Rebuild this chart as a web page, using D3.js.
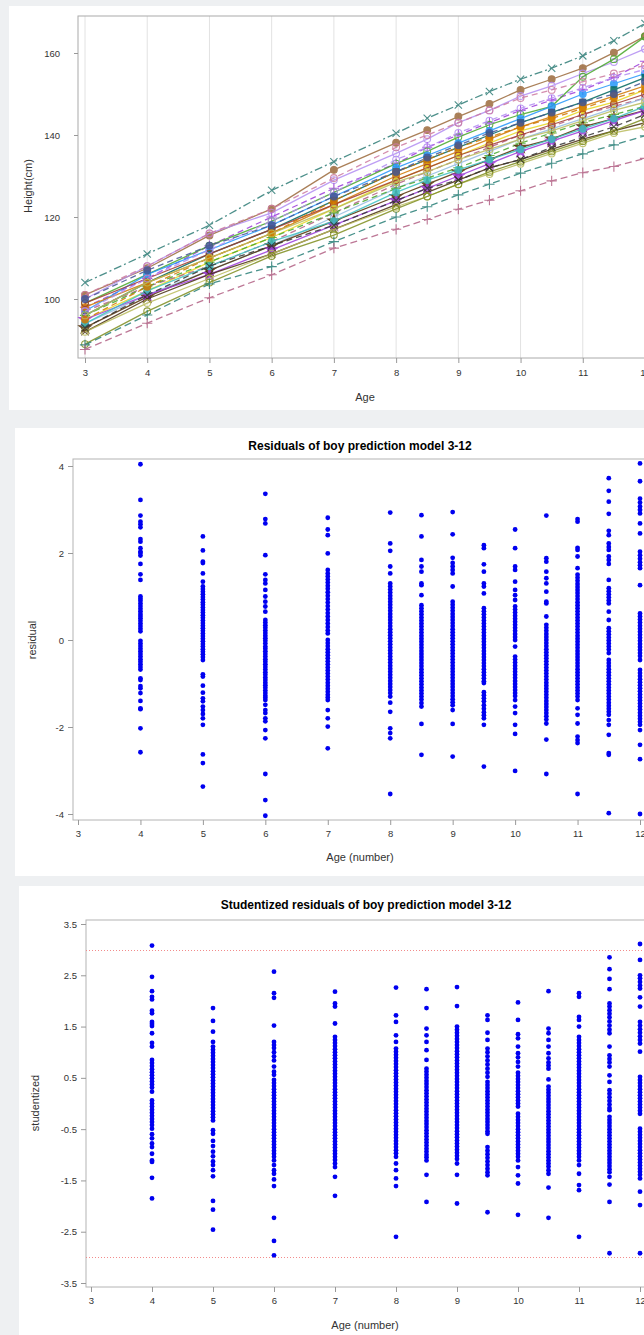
<!DOCTYPE html>
<html>
<head>
<meta charset="utf-8">
<script src="https://cdn.jsdelivr.net/npm/d3@7"></script>
<style>
  body { margin: 0; background: #eef0f2; }
  svg { display: block; font-family: "Liberation Sans", Arial, sans-serif; }
</style>
</head>
<body>
<svg id="chart" width="644" height="1335"></svg>
<script>
"use strict";

// ---- data: growth curves (Height in cm by age) ----
const ages = [3, 4, 5, 6, 7, 8, 8.5, 9, 9.5, 10, 10.5, 11, 11.5, 12];
const heights = [
  [104, 111, 118, 126.5, 133.5, 140.4, 144.1, 147.3, 150.6, 153.6, 156.3, 159.3, 163, 167.2],
  [101, 107.5, 115.5, 122, 131.5, 138.1, 141.2, 144.5, 147.6, 151, 153.6, 156.3, 160.1, 164.1],
  [100, 108, 116, 121, 129, 135.5, 139, 143, 146, 149.5, 152, 155, 157.8, 161],
  [98, 105, 113, 120, 127, 133, 137, 140, 143, 146, 148.5, 151, 154, 158],
  [99, 106, 113, 119, 126, 133, 136, 139.5, 142.5, 145, 147, 154.2, 158.5, 164],
  [97, 106, 112, 118, 125, 132, 135, 138, 141, 144, 147, 150, 152.5, 155],
  [96, 104, 111, 117, 124, 131, 134, 137, 140, 143, 145.5, 148, 151, 154],
  [98, 104, 110, 116, 123, 130, 133, 136, 139, 142, 144.5, 147, 149.5, 152],
  [95, 102, 109, 115, 122, 129, 132, 135, 138, 141, 143, 146, 148, 151],
  [97, 103, 108, 114, 121, 128, 131, 134, 137, 140, 142, 145, 147, 149],
  [94, 101, 107, 113, 120, 127, 130, 133, 136, 139, 141.5, 144, 146.5, 149],
  [96, 103, 109, 115, 121, 127, 129.5, 132, 135, 138, 140.5, 143, 145, 147],
  [93, 100.5, 107, 113, 119, 125, 128, 131, 134, 137, 139, 142, 144, 146],
  [95, 101, 106, 112, 118, 124, 127, 130, 133, 136, 138.5, 141, 143.5, 146],
  [92, 100, 106, 111, 117, 123, 126, 129, 132, 134, 136.5, 139, 141, 143],
  [94, 102, 108, 114, 119, 126, 129, 131.5, 134, 136.5, 139, 141.5, 144, 147],
  [99, 105, 111, 117, 123, 129, 132, 135, 137.5, 140, 142.5, 145, 147.5, 150],
  [92, 99, 105, 111, 117, 122.5, 125, 128, 130.5, 133, 135.5, 138, 140.5, 142],
  [89, 97, 104, 110.5, 115.6, 122, 125, 128, 131, 133.5, 136, 138.5, 141, 144],
  [88.8, 96.1, 103.7, 107.9, 114, 120, 122.5, 125.4, 128, 130.7, 133.1, 135.4, 137.6, 139.8],
  [87.7, 94.1, 100.3, 105.9, 112.4, 117, 119.4, 121.9, 124.1, 126.4, 128.8, 130.8, 132.3, 134.3],
  [101, 108, 116, 122, 129.5, 137, 140, 143, 146, 149, 151, 153, 155, 157],
  [97, 105, 112, 119, 126, 134, 137, 140.5, 143.5, 146.5, 149, 151.5, 154, 156],
  [95, 103, 110, 116, 124, 131, 134, 137, 139.5, 142, 144, 146.5, 149, 151],
  [96, 104, 110, 116, 122, 128.5, 131, 134, 136.5, 139, 141, 143.5, 146, 148],
  [100, 107, 113, 118, 125, 131, 134.5, 137.5, 140.5, 143, 145.5, 148, 150, 153],
  [93, 101, 108, 113, 118, 124, 127, 129, 132, 134, 137, 139.5, 142, 145]
];
const heightTicks = [100, 120, 140, 160];
const ageTicks = [3, 4, 5, 6, 7, 8, 9, 10, 11, 12];

// ---- data: residuals by age ----
const residAges = [4, 5, 6, 7, 8, 8.5, 9, 9.5, 10, 10.5, 11, 11.5, 12];
const res_4 = [4.04,3.22,2.86,2.72,2.66,2.59,2.32,2.26,2.11,2.03,2.0,1.94,1.75,1.51,1.38,1.0,0.95,0.9,0.84,0.78,0.72,0.66,0.6,0.55,0.5,0.44,0.38,0.32,0.26,0.2,-0.02,-0.08,-0.14,-0.2,-0.26,-0.32,-0.38,-0.44,-0.5,-0.56,-0.62,-0.68,-0.88,-0.92,-1.06,-1.11,-1.22,-1.4,-1.57,-1.59,-2.03,-2.58];
const res_5 = [2.38,2.06,1.8,1.77,1.53,1.34,1.23,1.17,1.11,1.05,0.99,0.93,0.87,0.81,0.75,0.69,0.63,0.57,0.51,0.45,0.39,0.33,0.27,0.21,0.15,0.09,0.03,-0.03,-0.09,-0.15,-0.21,-0.27,-0.33,-0.39,-0.46,-0.79,-0.84,-1.05,-1.21,-1.34,-1.41,-1.53,-1.61,-1.7,-1.8,-1.95,-2.63,-2.83,-3.37];
const res_6 = [3.36,2.78,2.68,1.95,1.51,1.38,1.3,1.15,1.0,0.88,0.77,0.65,0.46,0.4,0.34,0.28,0.22,0.16,0.1,0.04,-0.02,-0.08,-0.15,-0.2,-0.26,-0.32,-0.38,-0.44,-0.5,-0.56,-0.62,-0.68,-0.74,-0.8,-0.86,-0.92,-0.98,-1.04,-1.1,-1.16,-1.22,-1.28,-1.33,-1.38,-1.49,-1.61,-1.68,-1.8,-1.87,-2.07,-2.26,-3.08,-3.68,-4.04];
const res_7 = [2.81,2.54,2.41,1.99,1.61,1.53,1.46,1.39,1.32,1.25,1.18,1.1,1.02,0.94,0.86,0.78,0.7,0.62,0.54,0.46,0.38,0.3,0.22,0.15,0.0,-0.07,-0.14,-0.21,-0.28,-0.35,-0.42,-0.49,-0.56,-0.63,-0.7,-0.77,-0.84,-0.91,-0.98,-1.05,-1.12,-1.19,-1.26,-1.32,-1.38,-1.61,-1.8,-1.99,-2.49];
const res_8 = [2.93,2.22,2.05,1.69,1.53,1.3,1.23,1.16,1.09,1.02,0.95,0.88,0.81,0.74,0.67,0.6,0.53,0.46,0.39,0.32,0.25,0.18,0.11,0.04,-0.03,-0.1,-0.17,-0.24,-0.31,-0.38,-0.45,-0.52,-0.59,-0.66,-0.73,-0.8,-0.87,-0.94,-1.01,-1.08,-1.15,-1.22,-1.3,-1.44,-1.65,-2.03,-2.14,-2.26,-3.54];
const res_8_5 = [2.87,2.38,1.84,1.69,1.57,1.3,1.26,1.03,0.8,0.73,0.66,0.59,0.52,0.45,0.38,0.31,0.24,0.17,0.1,0.03,-0.04,-0.11,-0.18,-0.25,-0.32,-0.39,-0.46,-0.53,-0.6,-0.67,-0.74,-0.81,-0.88,-0.95,-1.02,-1.09,-1.16,-1.23,-1.3,-1.37,-1.45,-1.53,-1.93,-2.64];
const res_9 = [2.94,2.43,1.89,1.77,1.69,1.61,1.53,1.23,0.88,0.81,0.74,0.67,0.6,0.53,0.46,0.39,0.32,0.25,0.18,0.11,0.04,-0.03,-0.1,-0.17,-0.24,-0.31,-0.38,-0.45,-0.52,-0.59,-0.66,-0.73,-0.8,-0.87,-0.94,-1.01,-1.08,-1.15,-1.22,-1.29,-1.36,-1.43,-1.5,-1.61,-1.93,-2.68];
const res_9_5 = [2.18,2.11,1.74,1.57,1.3,1.23,1.07,0.73,0.66,0.59,0.52,0.45,0.38,0.31,0.24,0.17,0.1,0.03,-0.04,-0.11,-0.18,-0.25,-0.32,-0.39,-0.46,-0.53,-0.6,-0.67,-0.74,-0.81,-0.88,-0.95,-0.99,-1.2,-1.27,-1.34,-1.41,-1.5,-1.58,-1.66,-1.73,-1.8,-1.95,-2.91];
const res_10 = [2.54,2.11,1.69,1.61,1.34,1.15,1.03,0.92,0.77,0.7,0.63,0.56,0.49,0.42,0.35,0.28,0.21,0.14,0.07,0.0,-0.15,-0.38,-0.45,-0.52,-0.59,-0.66,-0.73,-0.8,-0.87,-0.94,-1.01,-1.08,-1.15,-1.22,-1.29,-1.38,-1.53,-1.68,-1.95,-2.16,-3.01];
const res_10_5 = [2.86,1.88,1.8,1.57,1.42,1.3,1.11,0.88,0.84,0.54,0.35,0.28,0.21,0.14,0.07,0.0,-0.07,-0.14,-0.21,-0.28,-0.35,-0.42,-0.49,-0.56,-0.63,-0.7,-0.77,-0.84,-0.91,-0.98,-1.05,-1.12,-1.19,-1.26,-1.33,-1.4,-1.47,-1.54,-1.61,-1.68,-1.75,-1.83,-1.92,-2.29,-3.08];
const res_11 = [2.78,2.72,2.12,2.07,1.92,1.65,1.5,1.43,1.36,1.29,1.22,1.15,1.08,1.01,0.94,0.87,0.8,0.73,0.66,0.59,0.52,0.45,0.38,0.31,0.24,0.17,0.1,0.03,-0.04,-0.11,-0.18,-0.25,-0.32,-0.39,-0.46,-0.53,-0.6,-0.67,-0.74,-0.81,-0.88,-0.95,-1.02,-1.09,-1.16,-1.23,-1.3,-1.38,-1.57,-1.72,-1.92,-2.22,-2.3,-2.37,-3.54];
const res_11_5 = [3.72,3.43,3.18,2.9,2.51,2.41,2.22,2.14,2.07,1.92,1.84,1.75,1.38,1.19,1.12,1.05,0.98,0.91,0.84,0.65,0.46,0.27,0.2,0.13,0.06,-0.01,-0.08,-0.15,-0.22,-0.3,-0.46,-0.53,-0.6,-0.67,-0.74,-0.81,-0.88,-0.95,-1.02,-1.09,-1.16,-1.23,-1.3,-1.37,-1.44,-1.51,-1.58,-1.65,-1.72,-1.84,-1.95,-2.18,-2.6,-2.64,-3.98];
const res_12 = [4.06,3.65,3.25,3.16,3.07,2.99,2.91,2.68,2.45,2.03,1.95,1.87,1.79,1.72,1.65,1.26,0.61,0.54,0.47,0.4,0.33,0.26,0.19,0.12,0.05,-0.02,-0.09,-0.16,-0.23,-0.3,-0.37,-0.46,-0.69,-0.76,-0.83,-0.9,-0.97,-1.04,-1.11,-1.18,-1.25,-1.32,-1.39,-1.46,-1.53,-1.6,-1.67,-1.74,-1.81,-1.88,-1.95,-2.07,-2.41,-2.74,-4.0];
const residTicks = [-4, -2, 0, 2, 4];

// ---- data: studentized residuals by age ----
const st_4 = [3.08,2.47,2.19,2.08,2.03,1.81,1.76,1.59,1.55,1.51,1.37,1.18,1.11,0.85,0.79,0.73,0.67,0.61,0.55,0.49,0.43,0.37,0.31,0.23,0.06,0.0,-0.06,-0.12,-0.18,-0.24,-0.3,-0.36,-0.42,-0.49,-0.6,-0.68,-0.78,-0.85,-0.98,-1.11,-1.14,-1.45,-1.85];
const st_5 = [1.86,1.61,1.4,1.2,1.11,1.05,0.99,0.93,0.87,0.81,0.75,0.69,0.63,0.57,0.51,0.45,0.39,0.33,0.27,0.21,0.15,0.09,0.03,-0.03,-0.09,-0.15,-0.21,-0.27,-0.33,-0.52,-0.59,-0.73,-0.83,-0.94,-1.03,-1.13,-1.2,-1.3,-1.42,-1.9,-2.07,-2.46];
const st_6 = [2.57,2.15,2.06,1.52,1.2,1.14,1.08,1.0,0.92,0.84,0.72,0.62,0.56,0.46,0.4,0.34,0.28,0.22,0.16,0.1,0.04,-0.02,-0.08,-0.14,-0.2,-0.26,-0.32,-0.38,-0.44,-0.5,-0.56,-0.62,-0.68,-0.74,-0.8,-0.86,-0.92,-0.98,-1.04,-1.11,-1.2,-1.3,-1.37,-1.48,-1.61,-2.23,-2.68,-2.96];
const st_7 = [2.18,1.95,1.89,1.56,1.3,1.24,1.18,1.12,1.06,1.0,0.94,0.88,0.82,0.76,0.7,0.64,0.58,0.52,0.46,0.4,0.34,0.28,0.22,0.16,0.1,0.04,-0.02,-0.08,-0.14,-0.2,-0.26,-0.32,-0.38,-0.44,-0.5,-0.56,-0.62,-0.68,-0.74,-0.8,-0.86,-0.92,-0.98,-1.04,-1.1,-1.17,-1.24,-1.43,-1.8];
const st_8 = [2.26,1.72,1.59,1.33,1.2,1.07,1.01,0.95,0.89,0.83,0.77,0.71,0.65,0.59,0.53,0.47,0.41,0.35,0.29,0.23,0.17,0.11,0.05,-0.01,-0.07,-0.13,-0.19,-0.25,-0.31,-0.37,-0.43,-0.49,-0.55,-0.61,-0.67,-0.73,-0.79,-0.85,-0.91,-0.97,-1.04,-1.17,-1.3,-1.46,-1.61,-2.6];
const st_8_5 = [2.23,1.86,1.46,1.33,1.2,1.04,0.85,0.68,0.62,0.56,0.5,0.44,0.38,0.32,0.26,0.2,0.14,0.08,0.02,-0.04,-0.1,-0.16,-0.22,-0.28,-0.34,-0.4,-0.46,-0.52,-0.58,-0.64,-0.7,-0.76,-0.82,-0.88,-0.94,-1.0,-1.05,-1.11,-1.39,-1.92];
const st_9 = [2.27,1.9,1.5,1.44,1.38,1.32,1.26,1.2,1.14,1.08,1.02,0.96,0.9,0.84,0.78,0.72,0.66,0.6,0.54,0.48,0.42,0.36,0.3,0.24,0.18,0.12,0.06,0.0,-0.06,-0.12,-0.18,-0.24,-0.3,-0.36,-0.42,-0.48,-0.54,-0.6,-0.66,-0.72,-0.78,-0.84,-0.9,-0.96,-1.02,-1.08,-1.17,-1.39,-1.95];
const st_9_5 = [1.72,1.63,1.38,1.24,1.07,1.0,0.92,0.84,0.76,0.68,0.6,0.52,0.42,0.36,0.3,0.24,0.18,0.12,0.06,0.0,-0.06,-0.12,-0.18,-0.24,-0.3,-0.36,-0.42,-0.48,-0.54,-0.59,-0.85,-0.92,-0.99,-1.06,-1.13,-1.2,-1.27,-1.34,-1.4,-2.12];
const st_10 = [1.97,1.63,1.35,1.27,1.11,0.98,0.9,0.81,0.72,0.6,0.54,0.48,0.42,0.36,0.3,0.24,0.18,0.12,0.06,0.0,-0.06,-0.2,-0.26,-0.32,-0.38,-0.44,-0.5,-0.56,-0.62,-0.68,-0.74,-0.8,-0.86,-0.92,-0.98,-1.04,-1.11,-1.24,-1.4,-1.56,-2.17];
const st_10_5 = [2.19,1.46,1.37,1.24,1.11,0.98,0.88,0.8,0.74,0.68,0.47,0.33,0.27,0.21,0.15,0.09,0.03,-0.03,-0.09,-0.15,-0.21,-0.27,-0.33,-0.39,-0.45,-0.51,-0.57,-0.63,-0.69,-0.75,-0.81,-0.87,-0.93,-0.99,-1.05,-1.11,-1.17,-1.23,-1.3,-1.37,-1.64,-2.23];
const st_11 = [2.15,2.08,1.69,1.63,1.5,1.3,1.24,1.18,1.12,1.06,1.0,0.94,0.88,0.82,0.76,0.7,0.64,0.58,0.52,0.46,0.4,0.34,0.28,0.22,0.16,0.1,0.04,-0.02,-0.08,-0.14,-0.2,-0.26,-0.32,-0.38,-0.44,-0.5,-0.56,-0.62,-0.68,-0.74,-0.8,-0.86,-0.92,-0.98,-1.04,-1.11,-1.2,-1.37,-1.59,-1.69,-2.6];
const st_11_5 = [2.85,2.62,2.43,2.23,1.95,1.89,1.82,1.75,1.68,1.6,1.52,1.44,1.37,1.11,0.94,0.87,0.8,0.72,0.55,0.42,0.26,0.19,0.12,0.05,-0.02,-0.09,-0.13,-0.26,-0.32,-0.38,-0.44,-0.5,-0.56,-0.62,-0.68,-0.74,-0.8,-0.86,-0.92,-0.98,-1.04,-1.1,-1.16,-1.22,-1.28,-1.34,-1.43,-1.58,-1.92,-2.92];
const st_12 = [3.11,2.8,2.5,2.44,2.37,2.3,2.24,2.07,1.89,1.59,1.52,1.45,1.38,1.31,1.24,1.17,1.01,0.52,0.46,0.4,0.34,0.28,0.22,0.16,0.1,0.04,-0.02,-0.08,-0.14,-0.2,-0.49,-0.55,-0.61,-0.67,-0.73,-0.79,-0.85,-0.91,-0.97,-1.03,-1.09,-1.15,-1.21,-1.27,-1.33,-1.39,-1.46,-1.72,-1.98,-2.92];
const studTicks = [-3.5, -2.5, -1.5, -0.5, 0.5, 1.5, 2.5, 3.5];
const studLimits = [3, -3];

// ---- styles for the growth lines (cycled by index) ----
const lineColors = ["#2f7d77", "#9c6a3c", "#b38ef3", "#9d3cdb", "#47a82a", "#2597fa", "#01665e", "#d17800", "#e8d820",
                    "#b26084", "#94bde1", "#47a82a", "#543005", "#9d3cdb", "#4a3010", "#3cc0c0", "#a23a2e", "#babc5c",
                    "#7f8e1f", "#2a8078", "#b26084", "#cd7ba1", "#b38ef3", "#d17800", "#babc5c", "#445694", "#333333"];
const lineDashes = ["8,3,2,3", "", "", "6,4", "", "", "", "", "", "6,4", "", "6,4", "", "", "", "", "", "",
                    "", "7,4", "7,4", "6,4", "6,4", "6,4", "", "6,4", "6,4"];
const lineMarkers = ["times", "circleF", "circle", "plus", "circle", "circleF", "squareF", "circleF", "diamondF",
                     "circle", "circle", "plus", "star", "star", "times", "circleF", "circle", "circle",
                     "circle", "plus", "plus", "circle", "circle", "circleF", "circle", "circleF", "times"];

const W = 644;
const svg = d3.select("#chart");
svg.append("rect").attr("width", W).attr("height", 1335).attr("fill", "#eef0f2");

/**
 * Axis clean-up: drop the domain path, grey ticks and labels
 */
function styleAxis(g)
{
    g.select(".domain").remove();
    g.selectAll(".tick line").attr("stroke", "#999");
    g.selectAll(".tick text").attr("fill", "#333").style("font-size", "9.5px");
}

function symbolFor(name)
{
    let types = {
        times: d3.symbolTimes || d3.symbolCross,
        plus: d3.symbolPlus || d3.symbolCross,
        circle: d3.symbolCircle,
        circleF: d3.symbolCircle,
        squareF: d3.symbolSquare,
        diamondF: d3.symbolDiamond,
        star: d3.symbolStar
    };
    return d3.symbol().type(types[name]).size(name === "star" ? 45 : 36)();
}

// ================= panel 1: growth curves =================
const p1 = svg.append("g");
p1.append("rect").attr("x", 9).attr("y", 6).attr("width", W).attr("height", 404).attr("fill", "#fff");

const f1 = {left: 78, top: 16, bottom: 358};
const x1 = d3.scaleLinear().domain([3, 12]).range([85, 645]);
const y1 = d3.scaleLinear().domain([160, 100]).range([53, 299]);

p1.selectAll("line.grid")
  .data(ageTicks)
  .enter().append("line")
  .attr("x1", d => x1(d)).attr("x2", d => x1(d))
  .attr("y1", f1.top).attr("y2", f1.bottom)
  .attr("stroke", "#e2e2e2");

p1.append("rect")
  .attr("x", f1.left).attr("y", f1.top)
  .attr("width", W + 20 - f1.left).attr("height", f1.bottom - f1.top)
  .attr("fill", "none").attr("stroke", "#aaa");

p1.append("g")
  .attr("transform", "translate(" + f1.left + ",0)")
  .call(d3.axisLeft(y1).tickValues(heightTicks).tickSize(4).tickPadding(14))
  .call(styleAxis);

p1.append("g")
  .attr("transform", "translate(0," + f1.bottom + ")")
  .call(d3.axisBottom(x1).tickValues(ageTicks).tickSize(5).tickPadding(6))
  .call(styleAxis);

const line1 = d3.line().x((d, i) => x1(ages[i])).y(d => y1(d));

heights.forEach((h, i) =>
{
    let col = lineColors[i % lineColors.length];
    let g = p1.append("g").attr("opacity", 0.85);
    g.append("path")
     .attr("d", line1(h))
     .attr("fill", "none")
     .attr("stroke", col)
     .attr("stroke-width", 1.3)
     .attr("stroke-dasharray", lineDashes[i]);

    let mk = lineMarkers[i];
    let filled = mk.endsWith("F") || mk === "star";
    g.selectAll("path.mk")
     .data(h)
     .enter().append("path")
     .attr("transform", (d, j) => "translate(" + x1(ages[j]) + "," + y1(d) + ")")
     .attr("d", symbolFor(mk))
     .attr("fill", filled ? col : "none")
     .attr("stroke", col)
     .attr("stroke-width", 1.1);
});

p1.append("text")
  .attr("x", 365).attr("y", 401)
  .attr("text-anchor", "middle").attr("fill", "#333")
  .style("font-size", "11px").text("Age");

p1.append("text")
  .attr("transform", "translate(32,186) rotate(-90)")
  .attr("text-anchor", "middle").attr("fill", "#333")
  .style("font-size", "11px").text("Height(cm)");

/**
 * Builds a residual scatter panel
 */
function scatterPanel(o)
{
    let g = svg.append("g");
    g.append("rect").attr("x", o.panelX).attr("y", o.panelY)
     .attr("width", W).attr("height", o.panelH).attr("fill", "#fff");

    g.append("text")
     .attr("x", o.titleX).attr("y", o.titleY)
     .attr("text-anchor", "middle").attr("fill", "#000")
     .style("font-size", "12px").style("font-weight", "bold")
     .text(o.title);

    let x = d3.scaleLinear().domain([3, 12]).range(o.xRange);
    let y = d3.scaleLinear().domain(o.yDomain).range(o.yRange);

    g.append("rect")
     .attr("x", o.left).attr("y", o.top)
     .attr("width", W + 20 - o.left).attr("height", o.bottom - o.top)
     .attr("fill", "none").attr("stroke", "#b4b4b4");

    if (o.limits)
    {
        g.selectAll("line.lim")
         .data(o.limits)
         .enter().append("line")
         .attr("x1", o.left).attr("x2", W)
         .attr("y1", d => Math.round(y(d)) + 0.5).attr("y2", d => Math.round(y(d)) + 0.5)
         .attr("stroke", "#f28b8b").attr("stroke-width", 1)
         .attr("shape-rendering", "crispEdges")
         .attr("stroke-dasharray", "1,2");
    }

    g.append("g")
     .attr("transform", "translate(" + o.left + ",0)")
     .call(d3.axisLeft(y).tickValues(o.yTicks).tickSize(5).tickPadding(4)
             .tickFormat(d => String(d)))
     .call(styleAxis);

    g.append("g")
     .attr("transform", "translate(0," + o.bottom + ")")
     .call(d3.axisBottom(x).tickValues(ageTicks).tickSize(5).tickPadding(5))
     .call(styleAxis);

    o.columns.forEach((vals, i) =>
    {
        g.selectAll(null)
         .data(vals)
         .enter().append("circle")
         .attr("cx", x(residAges[i]))
         .attr("cy", d => y(d))
         .attr("r", 2.4)
         .attr("fill", "#0000f0");
    });

    g.append("text")
     .attr("x", o.xLabelX).attr("y", o.xLabelY)
     .attr("text-anchor", "middle").attr("fill", "#333")
     .style("font-size", "11px").text("Age (number)");

    g.append("text")
     .attr("transform", "translate(" + o.yLabelX + "," + o.yLabelY + ") rotate(-90)")
     .attr("text-anchor", "middle").attr("fill", "#333")
     .style("font-size", "11px").text(o.yLabel);
}

// ================= panel 2: residuals =================
scatterPanel({
    panelX: 15, panelY: 428, panelH: 448,
    title: "Residuals of boy prediction model 3-12", titleX: 360, titleY: 450,
    left: 73, top: 459, bottom: 820,
    xRange: [78, 640], yDomain: [4, -4], yRange: [466, 814],
    yTicks: residTicks,
    columns: [res_4, res_5, res_6, res_7, res_8, res_8_5, res_9, res_9_5, res_10, res_10_5, res_11, res_11_5, res_12],
    xLabelX: 360, xLabelY: 861,
    yLabel: "residual", yLabelX: 36, yLabelY: 640
});

// ================= panel 3: studentized residuals =================
scatterPanel({
    panelX: 19, panelY: 886, panelH: 460,
    title: "Studentized residuals of boy prediction model 3-12", titleX: 366, titleY: 909,
    left: 86, top: 920, bottom: 1287,
    xRange: [91, 640], yDomain: [3.5, -3.5], yRange: [924, 1283],
    yTicks: studTicks, limits: studLimits,
    columns: [st_4, st_5, st_6, st_7, st_8, st_8_5, st_9, st_9_5, st_10, st_10_5, st_11, st_11_5, st_12],
    xLabelX: 365, xLabelY: 1329,
    yLabel: "studentized", yLabelX: 39, yLabelY: 1103
});
</script>
</body>
</html>
